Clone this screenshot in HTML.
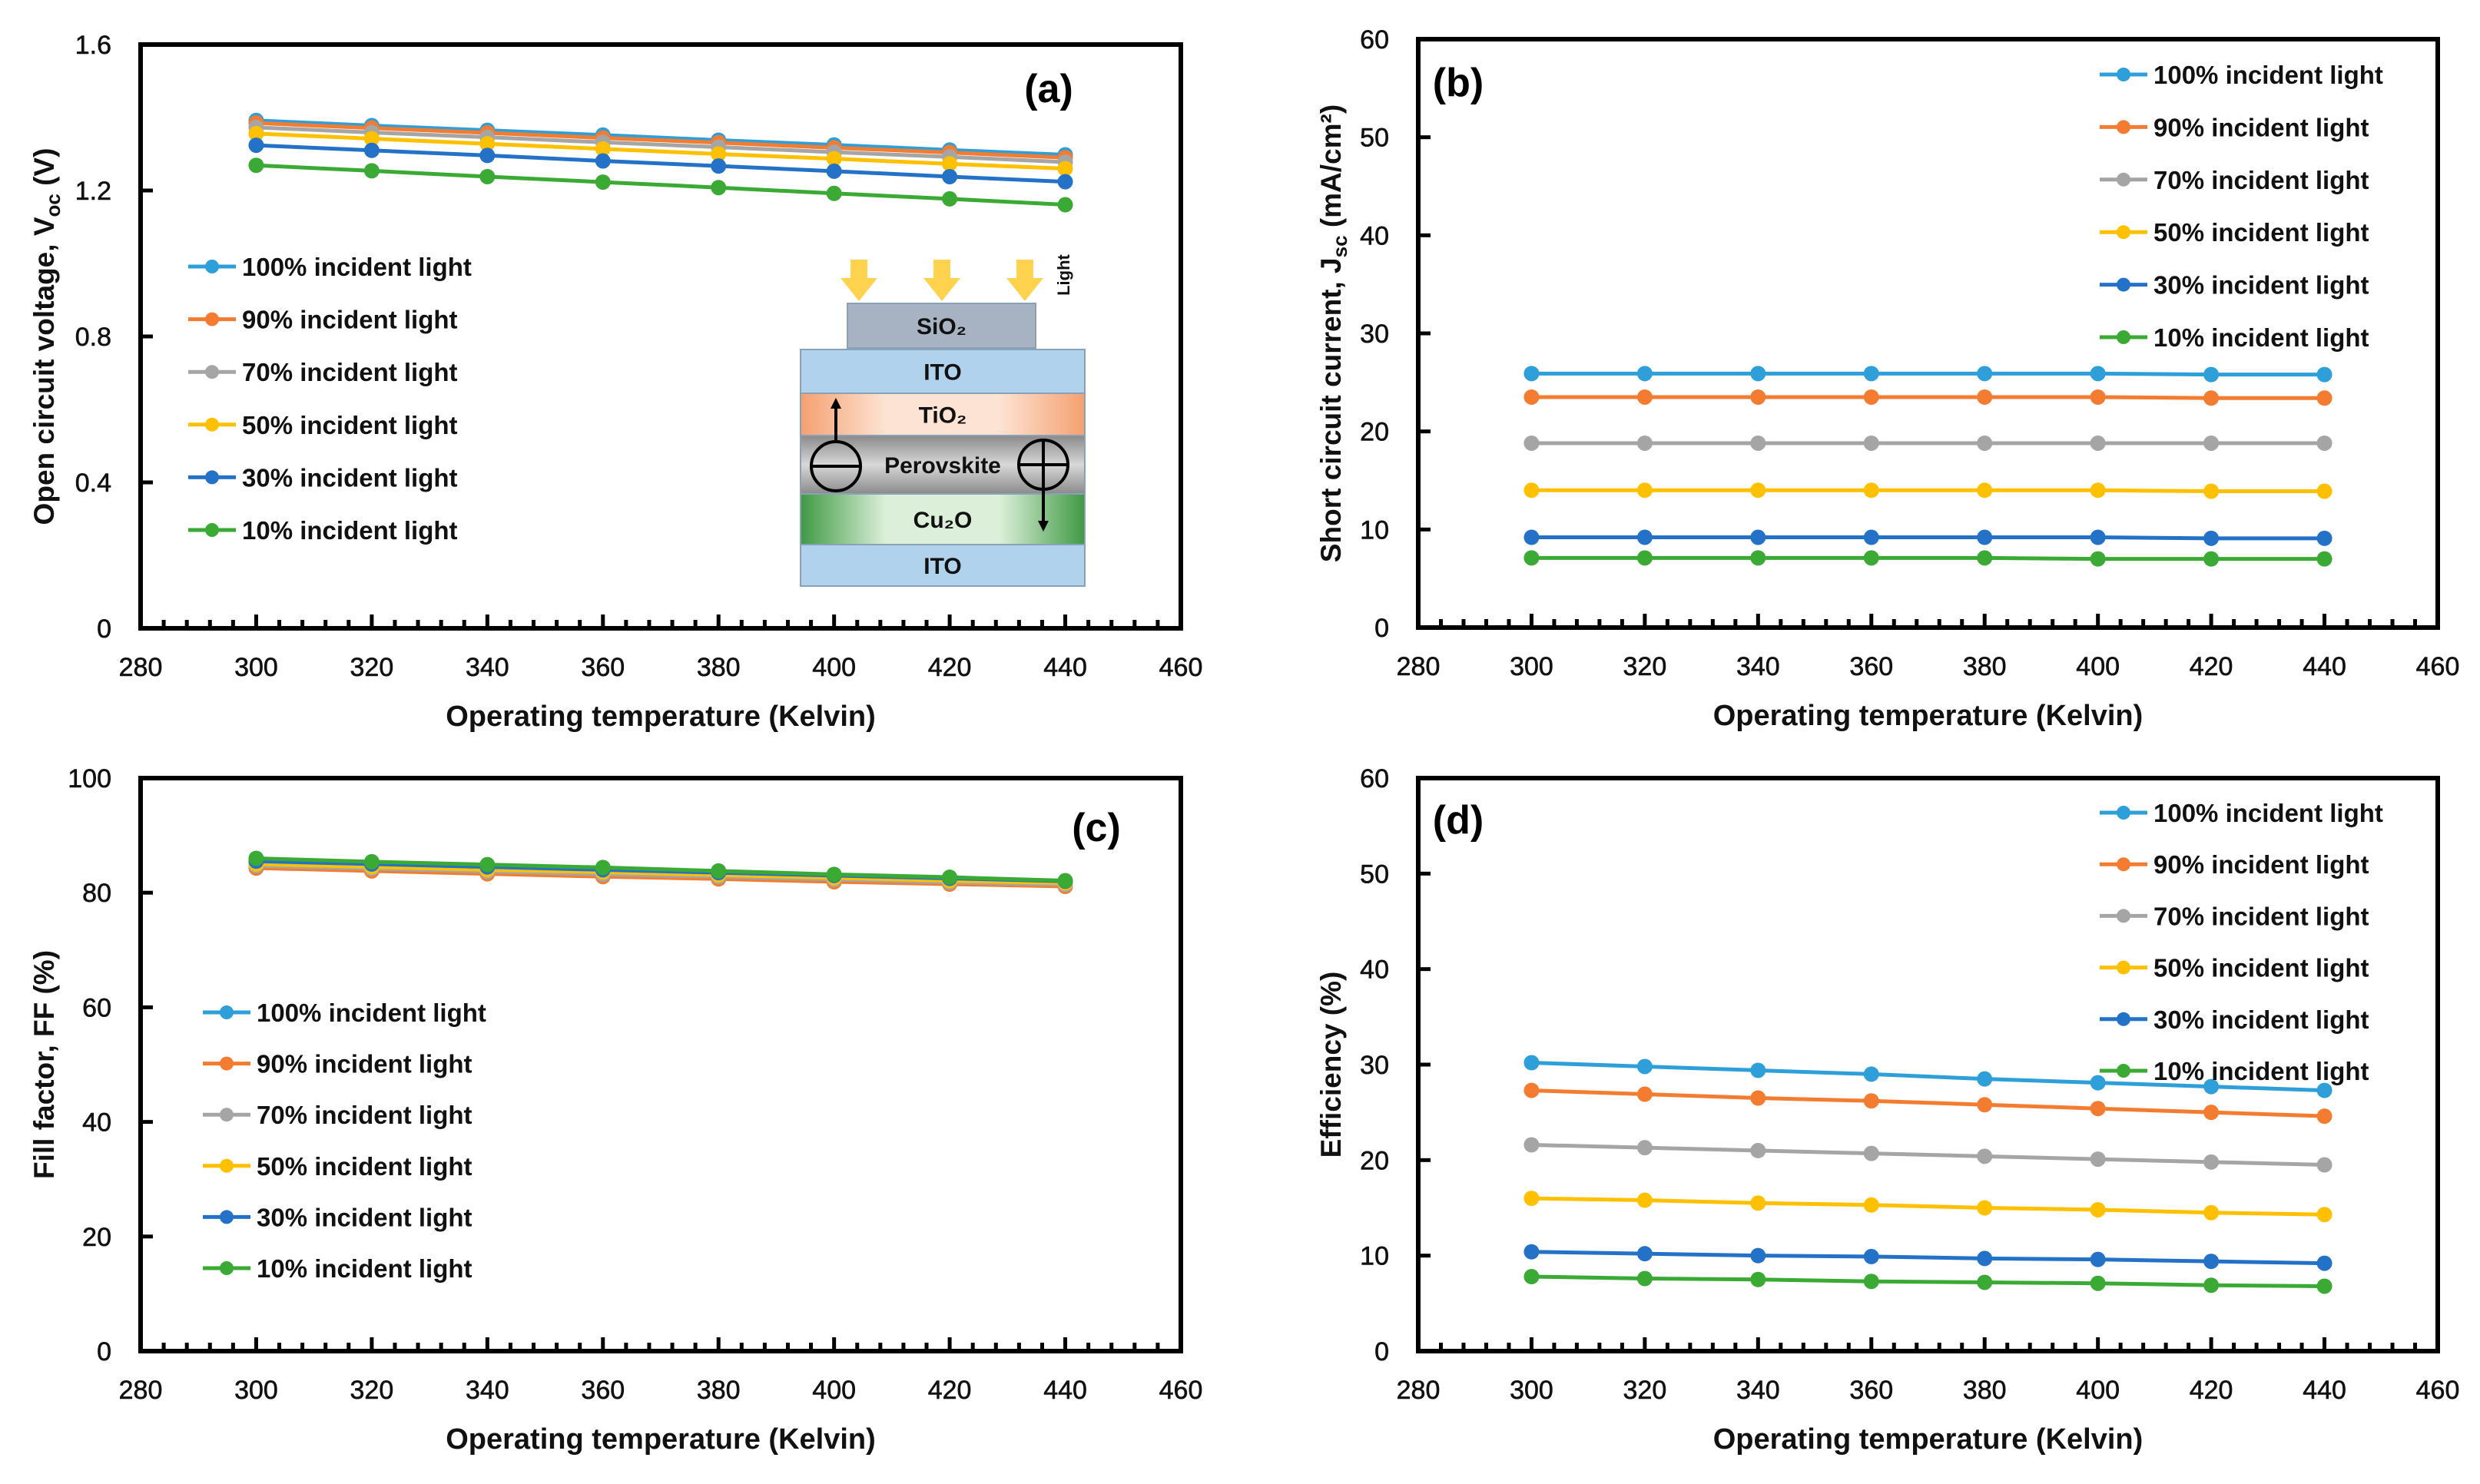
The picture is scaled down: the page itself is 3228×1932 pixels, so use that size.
<!DOCTYPE html>
<html><head><meta charset="utf-8">
<style>
html,body{margin:0;padding:0;background:#fff;}
svg{display:block;font-family:"Liberation Sans",sans-serif;}
</style></head>
<body>
<svg id="fig" width="3228" height="1932" viewBox="0 0 3228 1932" xmlns="http://www.w3.org/2000/svg">
<defs>
<linearGradient id="gTi" x1="0" x2="1"><stop offset="0" stop-color="#f5a070"/><stop offset="0.3" stop-color="#fde3d3"/><stop offset="0.7" stop-color="#fde3d3"/><stop offset="1" stop-color="#f5a070"/></linearGradient>
<linearGradient id="gPe" x1="0" x2="0" y1="0" y2="1"><stop offset="0" stop-color="#8a8a8a"/><stop offset="0.5" stop-color="#d8d8d8"/><stop offset="1" stop-color="#8a8a8a"/></linearGradient>
<linearGradient id="gCu" x1="0" x2="1"><stop offset="0" stop-color="#3f9a44"/><stop offset="0.3" stop-color="#dcefd9"/><stop offset="0.7" stop-color="#dcefd9"/><stop offset="1" stop-color="#3f9a44"/></linearGradient>
</defs>
</svg>
<script>
const temps = [300,320,340,360,380,400,420,440];
const seriesNames = ["100% incident light","90% incident light","70% incident light","50% incident light","30% incident light","10% incident light"];
const xTicks = [280,300,320,340,360,380,400,420,440,460];
// (a) Voc
const voc100 = [1.392,1.378,1.365,1.352,1.338,1.325,1.311,1.298];
const voc90  = [1.385,1.371,1.358,1.344,1.331,1.317,1.304,1.290];
const voc70  = [1.373,1.359,1.346,1.332,1.319,1.305,1.292,1.278];
const voc50  = [1.356,1.342,1.328,1.314,1.300,1.287,1.273,1.260];
const voc30  = [1.324,1.310,1.296,1.281,1.267,1.253,1.238,1.224];
const voc10  = [1.269,1.254,1.238,1.223,1.208,1.192,1.177,1.161];
const aTicks = [0,0.4,0.8,1.2,1.6];
// (b) Jsc
const jsc100 = [25.9,25.9,25.9,25.9,25.9,25.9,25.8,25.8];
const jsc90  = [23.5,23.5,23.5,23.5,23.5,23.5,23.4,23.4];
const jsc70  = [18.8,18.8,18.8,18.8,18.8,18.8,18.8,18.8];
const jsc50  = [14.0,14.0,14.0,14.0,14.0,14.0,13.9,13.9];
const jsc30  = [9.2,9.2,9.2,9.2,9.2,9.2,9.1,9.1];
const jsc10  = [7.1,7.1,7.1,7.1,7.1,7.0,7.0,7.0];
const bTicks = [0,10,20,30,40,50,60];
// (c) FF
const ff100 = [85.2,84.7,84.3,83.8,83.3,82.8,82.3,81.8];
const ff90  = [84.3,83.8,83.3,82.8,82.4,81.9,81.5,81.1];
const ff70  = [84.7,84.2,83.7,83.2,82.8,82.3,81.8,81.4];
const ff50  = [85.0,84.5,84.0,83.6,83.1,82.6,82.1,81.7];
const ff30  = [85.5,85.0,84.5,84.0,83.5,83.0,82.5,82.0];
const ff10  = [86.0,85.4,84.9,84.4,83.8,83.2,82.7,82.1];
const cTicks = [0,20,40,60,80,100];
// (d) Efficiency
const eff100 = [30.2,29.8,29.4,29.0,28.5,28.1,27.7,27.3];
const eff90  = [27.3,26.9,26.5,26.2,25.8,25.4,25.0,24.6];
const eff70  = [21.6,21.3,21.0,20.7,20.4,20.1,19.8,19.5];
const eff50  = [16.0,15.8,15.5,15.3,15.0,14.8,14.5,14.3];
const eff30  = [10.4,10.2,10.0,9.9,9.7,9.6,9.4,9.2];
const eff10  = [7.8,7.6,7.5,7.3,7.2,7.1,6.9,6.8];
const dTicks = [0,10,20,30,40,50,60];

const colors = ["#2e9fd8","#f47c30","#a5a5a5","#ffc000","#2472c8","#3aaa35"];
const NS = "http://www.w3.org/2000/svg";
const svg = document.getElementById("fig");
function mk(tag, attrs, parent, text){
  const e = document.createElementNS(NS, tag);
  for (const k in attrs) e.setAttribute(k, attrs[k]);
  if (text !== undefined) e.textContent = text;
  (parent||svg).appendChild(e);
  return e;
}

function panel(cfg){
  const g = mk("g",{});
  
  
  const L=cfg.L,R=cfg.R,T=cfg.T,B=cfg.B;
  const xs = v => L + (v-280)/(460-280)*(R-L);
  const ys = v => B - (v-cfg.ymin)/(cfg.ymax-cfg.ymin)*(B-T);
  for (let v=280; v<=460; v+=4){
    const major = (v%20===0);
    const t = mk("line",{x1:xs(v),x2:xs(v),y1:B,y2:B-(major?18:11),stroke:"#000","stroke-width":5},g);
    
    
  }
  xTicks.forEach(v=>{
    const t = mk("text",{x:xs(v),y:B+62,"text-anchor":"middle","font-size":34,fill:"#111","stroke":"#111","stroke-width":0.6},g,String(v));
    
    
  });
  cfg.yticks.forEach(v=>{
    const y = ys(v);
    const tk = mk("line",{x1:L,x2:L+16,y1:y,y2:y,stroke:"#000","stroke-width":5},g);
    
    
    const t = mk("text",{x:L-38,y:y+12,"text-anchor":"end","font-size":34,fill:"#111","stroke":"#111","stroke-width":0.6},g,cfg.fmt(v));
    
    
  });
  const box = mk("rect",{x:L,y:T,width:R-L,height:B-T,fill:"none",stroke:"#000","stroke-width":6},g);
  
  
  cfg.series.forEach((vals,i)=>{
    const sg = mk("g",{},g);
    
    
    const pts = vals.map((v,j)=>xs(temps[j])+","+ys(v)).join(" ");
    const pl = mk("polyline",{points:pts,fill:"none",stroke:colors[i],"stroke-width":5},sg);
    
    
    vals.forEach((v,j)=>{
      const c = mk("circle",{cx:xs(temps[j]),cy:ys(v),r:10,fill:colors[i]},sg);
      
      
    });
  });
  seriesNames.forEach((n,i)=>{
    const lg = mk("g",{},g);
    
    
    const y = cfg.legY + i*cfg.legDy;
    mk("line",{x1:cfg.legX,x2:cfg.legX+62,y1:y,y2:y,stroke:colors[i],"stroke-width":5},lg);
    mk("circle",{cx:cfg.legX+31,cy:y,r:9,fill:colors[i]},lg);
    mk("text",{x:cfg.legX+70,y:y+12,"font-size":33,"font-weight":"bold",fill:"#111"},lg,n);
  });
  const lab = mk("text",{x:cfg.labX,y:cfg.labY,"text-anchor":"middle","font-size":52,"font-weight":"bold",fill:"#000"},g,cfg.label);
  
  
  const xt = mk("text",{x:(L+R)/2,y:B+127,"text-anchor":"middle","font-size":38,"font-weight":"bold",fill:"#111"},g,"Operating temperature (Kelvin)");
  
  
  const cy = (T+B)/2;
  const yt = mk("text",{x:cfg.ytX,y:cy,transform:`rotate(-90 ${cfg.ytX} ${cy})`,"text-anchor":"middle","font-size":37,"font-weight":"bold",fill:"#111"},g);
  
  
  cfg.ytitle(yt);
  return g;
}
function plainTitle(s){ return el=>{ el.textContent=s; }; }
function subTitle(a,sub,b){ return el=>{
  mk("tspan",{},el,a);
  mk("tspan",{"font-size":26,dy:8},el,sub);
  mk("tspan",{dy:-8},el,b);
};}

panel({name:"panel-a-voc",L:183,R:1537,T:58,B:818,ymin:0,ymax:1.6,yticks:aTicks,
  fmt:v=>v===0?"0":v.toFixed(1),
  series:[voc100,voc90,voc70,voc50,voc30,voc10],
  legX:245,legY:347,legDy:68.6,label:"(a)",labX:1365,labY:133,ytX:70,
  ytitle:subTitle("Open circuit voltage, V","oc"," (V)")});
panel({name:"panel-b-jsc",L:1846,R:3173,T:51,B:817,ymin:0,ymax:60,yticks:bTicks,
  fmt:v=>String(v),
  series:[jsc100,jsc90,jsc70,jsc50,jsc30,jsc10],
  legX:2733,legY:97,legDy:68.4,label:"(b)",labX:1898,labY:125,ytX:1745,
  ytitle:subTitle("Short circuit current, J","sc"," (mA/cm²)")});
panel({name:"panel-c-ff",L:183,R:1537,T:1013,B:1759,ymin:0,ymax:100,yticks:cTicks,
  fmt:v=>String(v),
  series:[ff100,ff90,ff70,ff50,ff30,ff10],
  legX:264,legY:1318,legDy:66.6,label:"(c)",labX:1427,labY:1095,ytX:70,
  ytitle:plainTitle("Fill factor, FF (%)")});
panel({name:"panel-d-efficiency",L:1846,R:3173,T:1013,B:1759,ymin:0,ymax:60,yticks:dTicks,
  fmt:v=>String(v),
  series:[eff100,eff90,eff70,eff50,eff30,eff10],
  legX:2733,legY:1058,legDy:67.2,label:"(d)",labX:1898,labY:1085,ytX:1745,
  ytitle:plainTitle("Efficiency (%)")});

const ins = mk("g",{});


[1118,1226,1334].forEach(x=>{
  const a = mk("polygon",{points:`${x-11},338 ${x+11},338 ${x+11},362 ${x+24},362 ${x},392 ${x-24},362 ${x-11},362`,fill:"#ffd34d"},ins);
  
  
});
mk("text",{x:1392,y:358,transform:"rotate(-90 1392 358)","text-anchor":"middle","font-size":22,"font-weight":"bold",fill:"#111"},ins,"Light");
const layers = [
  {n:"sio2-layer",x:1103,y:395,w:245,h:58,f:"#a7b3c3",t:"SiO₂"},
  {n:"ito-top-layer",x:1042,y:455,w:370,h:57,f:"#b0d2ec",t:"ITO"},
  {n:"tio2-layer",x:1042,y:512,w:370,h:55,f:"url(#gTi)",t:"TiO₂"},
  {n:"perovskite-layer",x:1042,y:567,w:370,h:76,f:"url(#gPe)",t:"Perovskite"},
  {n:"cu2o-layer",x:1042,y:643,w:370,h:66,f:"url(#gCu)",t:"Cu₂O"},
  {n:"ito-bottom-layer",x:1042,y:709,w:370,h:54,f:"#b0d2ec",t:"ITO"}
];
layers.forEach(l=>{
  const r = mk("rect",{x:l.x,y:l.y,width:l.w,height:l.h,fill:l.f,stroke:"#8aa2b8","stroke-width":2},ins);
  
  
  mk("text",{x:l.x+l.w/2,y:l.y+l.h/2+11,"text-anchor":"middle","font-size":30,"font-weight":"bold",fill:"#111"},ins,l.t);
});
mk("circle",{cx:1088,cy:607,r:32,fill:"none",stroke:"#000","stroke-width":4},ins);
mk("line",{x1:1056,x2:1120,y1:607,y2:607,stroke:"#000","stroke-width":4},ins);
mk("line",{x1:1088,x2:1088,y1:575,y2:530,stroke:"#000","stroke-width":4},ins);
mk("polygon",{points:"1081,532 1095,532 1088,518",fill:"#000"},ins);
mk("circle",{cx:1358,cy:605,r:32,fill:"none",stroke:"#000","stroke-width":4},ins);
mk("line",{x1:1326,x2:1390,y1:605,y2:605,stroke:"#000","stroke-width":4},ins);
mk("line",{x1:1358,x2:1358,y1:573,y2:680,stroke:"#000","stroke-width":4},ins);
mk("polygon",{points:"1351,678 1365,678 1358,692",fill:"#000"},ins);
</script>
</body></html>
